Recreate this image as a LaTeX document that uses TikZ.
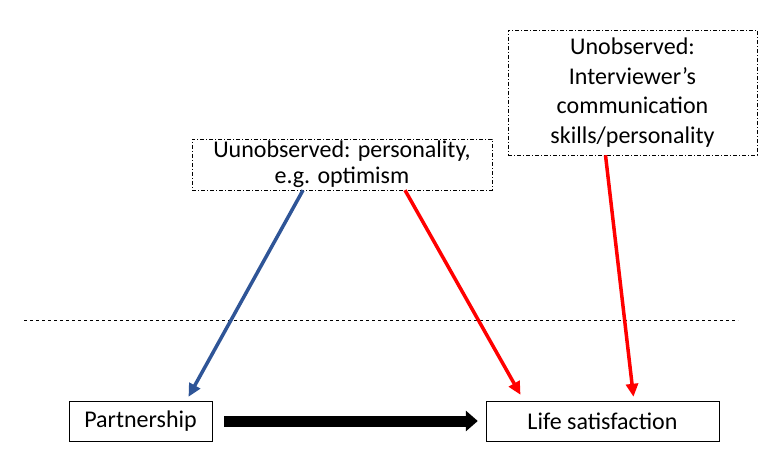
\documentclass[tikz,border=0pt]{standalone}
\usepackage{fontspec}
\setmainfont{Carlito}
\usepackage{xcolor}
\usetikzlibrary{arrows.meta,calc}
\definecolor{pathblue}{RGB}{47,85,151}
\definecolor{pathred}{RGB}{255,0,0}

\begin{document}
\begin{tikzpicture}[
  x=1pt, y=-1pt,
  every node/.style={font=\fontsize{24}{26}\selectfont, align=center, inner sep=0pt},
  obsbox/.style={draw, thin, fill=white},
  unobsbox/.style={draw, thin, dash pattern=on 4pt off 2pt on 1pt off 2pt},
  blueline/.style={pathblue, line width=3.5pt, -{Triangle[length=13pt, width=12pt]}},
  redline/.style={pathred, line width=3.5pt, -{Triangle[length=13pt, width=12pt]}},
  fatarrow/.style={line width=11pt, -{Triangle[length=12pt, width=20pt]}}
]
\useasboundingbox (0,0) rectangle (782,462);

\node[obsbox, minimum width=143pt, minimum height=40pt] (part) at (140.5,421) {Partnership};
\node[obsbox, minimum width=233pt, minimum height=40pt] (life) at (602.5,421) {Life satisfaction};
\node[unobsbox, minimum width=300pt, minimum height=51pt] (pers) at (342,164.5)
  {Uunobserved: personality,\\e.g. optimism};
\node[unobsbox, minimum width=249pt, minimum height=125pt,
  font=\fontsize{24}{29.5}\selectfont] (intv) at (632.5,92.5)
  {Unobserved:\\Interviewer’s\\communication\\skills/personality};

% observed / unobserved divide
\coordinate (divl) at (24,320);
\coordinate (divr) at (738,320);
\draw[dashed, thin] (divl) -- (divr);

\draw[blueline] ($(pers.south)+(-39,0)$) -- ($(part.north)+(48,-4)$);
\draw[redline] ($(pers.south)+(63,0)$) -- ($(life.north)+(-82,-6)$);
\draw[redline] ($(intv.south)+(-27,0)$) -- ($(life.north)+(31,-4)$);
\draw[fatarrow] ($(part.east)+(12,0)$) -- ($(life.west)+(-8,0)$);
\end{tikzpicture}
\end{document}
